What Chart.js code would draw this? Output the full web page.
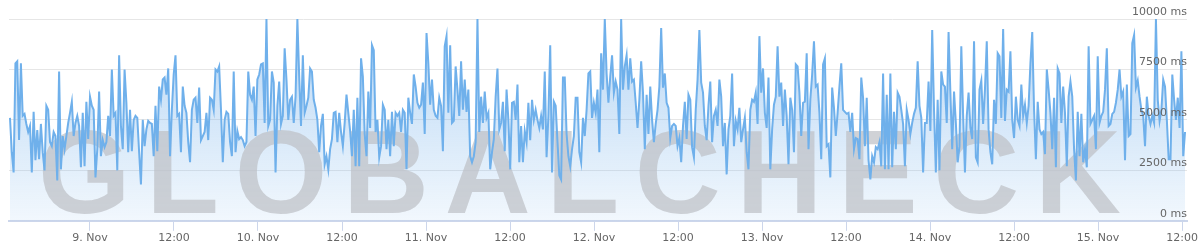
<!DOCTYPE html>
<html>
<head>
<meta charset="utf-8">
<script src="https://cdn.jsdelivr.net/npm/chart.js@4"></script>
<style>
  html, body { margin: 0; padding: 0; background: #ffffff; }
  #wrap { position: relative; width: 1200px; height: 251px; }
  canvas { display: block; }
</style>
</head>
<body>
<div id="wrap"><canvas id="c" width="1200" height="251"></canvas></div>
<script>
// ---- DATA (response time in ms, sampled evenly from 8 Nov ~12:35 to 15 Nov ~12:25) ----
const nov8pm = [5100,3400,2400,7800,7900,4000,7800,5200,5300,4800,4400,4700,2400,5400,3000,4500,3050,4800,3400,2500,5700,5500,3900,3700,4400,4200,2000,7400,2550,4200,3550,4200,4850,5350,5900,4200,4850,5200,4700,2650,5350,2700,5900,4050,6150,5700,5500,2150,3550,6400,3200,4000,3650,3900,5200,4200,7500,5200,5350,2500,8200,4700,3550,7500,5850,3400,5500,3450,5000,5200,5100,3400,1800,5000,3700,4530,4950,4850,4800,3200,5700,3450,6650,6000,7000,7100,6250,7550,3200,5500,7250,8200,5200,5300,3400,6650,5700,5350,3900,2900,5500,6000,6100,4850];
const nov10 = [6600,4000,4200,4400,5350,4000,6100,6000,5500,7500,7400,7650,5500,2900,5000,5400,5300,3900,3200,7400,3400,4450,4050,4150,4000,3700,3900,7400,6250,6000,6650,4200,7000,7250,7750,7800,4850,10000,4700,5000,7400,6850,2400,5700,6900,4800,5200,8550,7000,5000,6000,6150,4850,6150,10000,7150,4700,8200,5350,5700,6100,7550,7400,6000,5600,5000,3400,4700,5300,2800,3200,2550,3550,4050,5350,5400,3900,5350,4400,3700,4850,6250,5350,4450,3200,5500,2700,6100,2700,8050,7150,4300,3200,6400,4600,8700,8450,4400,5000,3150,3700,5750,5500,3550,5000,3200,5400,3700,5350];
const nov11 = [5200,5350,4400,5500,5350,2550,6100,5350,4800,7250,6650,5850,5600,5750,6850,4300,9300,7800,5750,7000,5500,5200,5100,6100,5700,3450,8650,9150,5350,8700,4850,4950,7650,6500,5200,7900,5500,7000,5400,6500,3200,2900,3200,3900,10000,4400,6150,4850,6400,5100,5350,2550,3400,4050,6150,7550,4530,4850,5900,3450,6500,5000,2550,5850,5900,5000,6750,2900,4700,2900,4450,3900,5850,4000,6000,5000,5500,5000,4600,5200,4530,7400,3150,5200,8700,2400,5900,5700,3900,2250,2050,7100,7100,4300,3200,2700,3550,4200,6100,6100,3400,2900,5100,4200,5500,7300];
const nov12 = [7400,5100,5850,5350,6500,3400,8300,6500,10000,7300,5850,7150,8200,6350,6900,6500,4300,10000,6500,7650,8200,6500,8050,6900,7000,5850,4600,6000,7900,6350,3550,6250,4300,6650,5000,3900,4800,5500,6650,9550,6600,7300,5850,5600,4100,4700,4800,4700,3700,4100,2900,4700,5900,4050,6250,6000,3650,3150,5500,7000,9450,6850,6350,4700,4000,5700,6900,3900,5200,5500,4700,7000,6150,3700,4850,2300,4530,5200,7300,3700,4950,4530,5600,3900,4530,5100,3400,2550,5500,6000,5900,6350,4800,9150,6350,7550,5350,4600,7100,2550,4530,5750,6150,8650,6150,6850,4700];
const nov13 = [6500,5200,2800,6100,5500,3400,7750,7650,6350,4200,5850,5900,8300,3550,6000,7250,8900,6650,6750,5350,3050,7750,8050,3700,3800,2150,6600,5600,4200,5350,6650,7800,5500,5400,5300,5350,4400,5350,3550,4100,4050,3050,7100,6100,3700,6100,3000,2050,3200,2900,3650,3550,3900,2700,7300,2550,6250,2550,7300,2650,5400,3550,6350,6150,5500,4800,2700,5500,5000,4300,4850,5300,5600,7900,5700,5100,2400,4850,4850,6900,4450,9450,5500,2400,6000,2500,7400,6750,6650,4850,9350,6350,3550,6400,4850,2900,3700,8650,5200,2400,5200,6350,4600,4050,8900,3150,2900];
const nov14 = [6500,6950,4800,6500,8900,4530,3400,2800,6000,4800,8300,8150,5100,9500,4950,6500,6400,8400,5000,4100,6150,5000,4700,6750,5200,5750,4850,5700,7800,9350,5500,3050,5900,4530,4300,4400,3300,7500,6500,5350,3550,6100,2650,7550,7300,4850,6650,5350,2700,6150,6900,6150,3550,2000,5400,3200,5300,2900,3550,2650,8650,4800,5000,5200,3550,8150,4850,5200,5400,6500,8550,4700,4800,5300,5400,5850,6500,7500,6150,6400,3000,6750,4200,4300,8800,9200,6600,6950,6150,5500,5200,3700,6150,5200,4800,5200,4850,10000,6000,4950,5500,7000,6650,5000,3050,3050,7250,6000,5000,6100,4600,8400,3200,4400];

// x axis (hours relative to 9 Nov 00:00)
const firstSampleHour = -11.43;
const lastSampleHour = 156.43;
const xAxisMin = -11.57;
const xAxisMax = 156.71;
const tickHours = [0,12,24,36,48,60,72,84,96,108,120,132,144,156];
const xTickLabels = ["9. Nov","12:00","10. Nov","12:00","11. Nov","12:00","12. Nov","12:00","13. Nov","12:00","14. Nov","12:00","15. Nov","12:00"];
const yTicks = [0,2500,5000,7500,10000];
const yUnit = " ms";
const watermarkText = "GLOBALCHECK";

// ---- build ----
const values = [].concat(nov8pm, nov10, nov11, nov12, nov13, nov14);
const stepH = (lastSampleHour - firstSampleHour) / (values.length - 1);
const points = values.map((v, i) => ({ x: firstSampleHour + i * stepH, y: v }));

// watermark drawn after the area fill, before the line
const watermark = {
  id: 'watermark',
  beforeDatasetDraw(chart) {
    const c = chart.ctx;
    c.save();
    c.font = 'bold 119px "Liberation Sans"';
    c.fillStyle = 'rgba(190,193,198,0.72)';
    c.textBaseline = 'alphabetic';
    const letters = watermarkText.split('');
    const m = letters.map(ch => c.measureText(ch));
    const inkLeft = 42, inkRight = 1120, baseY = 213;
    let adv = 0;
    for (let i = 0; i < letters.length - 1; i++) adv += m[i].width;
    const last = m[letters.length - 1];
    const spanNoSpacing = adv + last.actualBoundingBoxRight + m[0].actualBoundingBoxLeft;
    const spacing = ((inkRight - inkLeft) - spanNoSpacing) / (letters.length - 1);
    let x = inkLeft + m[0].actualBoundingBoxLeft;
    letters.forEach((ch, i) => {
      c.fillText(ch, x, baseY);
      x += m[i].width + spacing;
    });
    c.restore();
  }
};

const canvas = document.getElementById('c');
new Chart(canvas, {
  type: 'line',
  data: {
    datasets: [{
      data: points,
      borderColor: '#6fb0eb',
      borderWidth: 2,
      pointRadius: 0,
      tension: 0,
      fill: 'origin',
      backgroundColor: (ctx) => {
        const ch = ctx.chart;
        const area = ch.chartArea;
        if (!area) return 'rgba(124,181,236,0.3)';
        const g = ch.ctx.createLinearGradient(0, area.top, 0, area.bottom);
        g.addColorStop(0, 'rgba(124,181,236,0.55)');
        g.addColorStop(1, 'rgba(124,181,236,0.10)');
        return g;
      }
    }]
  },
  options: {
    responsive: false,
    animation: false,
    events: [],
    layout: { padding: { left: 9, right: 13, top: 19, bottom: 5 } },
    plugins: { legend: { display: false }, tooltip: { enabled: false } },
    scales: {
      x: {
        type: 'linear',
        min: xAxisMin,
        max: xAxisMax,
        afterBuildTicks: (axis) => { axis.ticks = tickHours.map(v => ({ value: v })); },
        ticks: {
          autoSkip: false,
          maxRotation: 0,
          padding: 1,
          color: '#666666',
          font: { family: '"DejaVu Sans"', size: 11 },
          callback: (v) => xTickLabels[tickHours.indexOf(v)]
        },
        grid: { drawOnChartArea: false, tickLength: 10, color: '#ccd6eb', lineWidth: 1 },
        border: { color: '#ccd6eb', width: 2 }
      },
      y: {
        position: 'right',
        min: 0,
        max: 10000,
        afterBuildTicks: (axis) => { axis.ticks = yTicks.map(v => ({ value: v })); },
        ticks: {
          z: 1,
          mirror: true,
          padding: 0,
          labelOffset: -7,
          color: '#666666',
          font: { family: '"DejaVu Sans"', size: 11 },
          callback: (v) => v + yUnit
        },
        grid: { color: '#e6e6e6', drawTicks: false },
        border: { display: false }
      }
    }
  },
  plugins: [watermark]
});
</script>
</body>
</html>
